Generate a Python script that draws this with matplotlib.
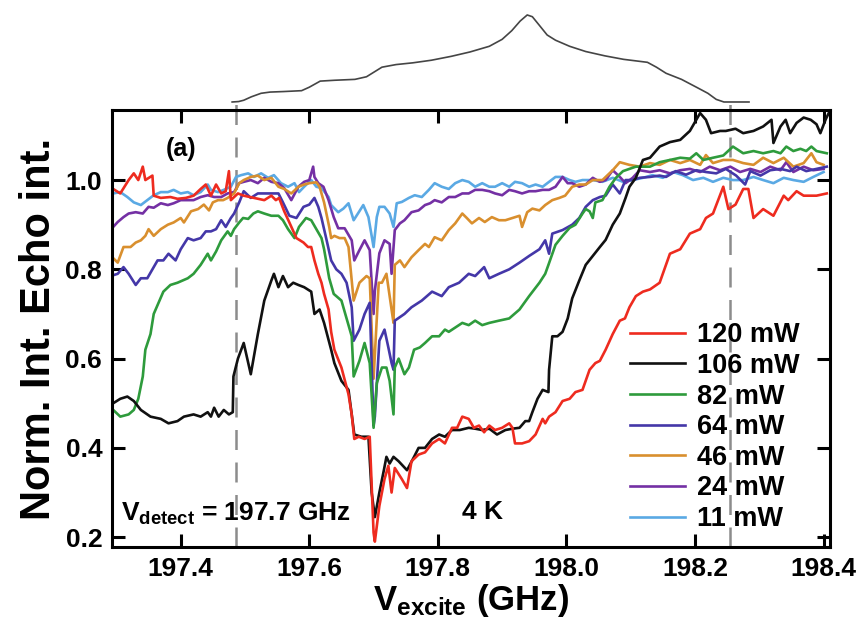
import matplotlib.pyplot as plt

plt.rcParams['font.family'] = ['Liberation Sans', 'DejaVu Sans']
plt.rcParams['font.weight'] = 'bold'
plt.rcParams['axes.labelweight'] = 'bold'
plt.rcParams['mathtext.fontset'] = 'custom'
plt.rcParams['mathtext.rm'] = 'Liberation Sans:bold'
plt.rcParams['mathtext.it'] = 'Liberation Sans:bold'
plt.rcParams['mathtext.bf'] = 'Liberation Sans:bold'

# ---- echo intensity vs excitation frequency, one trace per power ----
red_x = [197.295, 197.306, 197.319, 197.327, 197.334, 197.341, 197.345, 197.356, 197.358, 197.369,
         197.384, 197.395, 197.408, 197.420, 197.431, 197.439, 197.447, 197.455, 197.463, 197.470,
         197.475, 197.478, 197.489, 197.498, 197.514, 197.530, 197.541, 197.548, 197.553, 197.561,
         197.569, 197.580, 197.591, 197.598, 197.603, 197.608, 197.614, 197.619, 197.623, 197.630,
         197.634, 197.639, 197.650, 197.661, 197.666, 197.670, 197.677, 197.686, 197.694, 197.700,
         197.702, 197.709, 197.717, 197.723, 197.728, 197.733, 197.744, 197.752, 197.759, 197.770,
         197.780, 197.791, 197.802, 197.811, 197.822, 197.830, 197.838, 197.848, 197.856, 197.864,
         197.872, 197.880, 197.889, 197.900, 197.911, 197.916, 197.920, 197.931, 197.942, 197.952,
         197.963, 197.967, 197.973, 197.983, 197.994, 198.005, 198.014, 198.025, 198.036, 198.045,
         198.052, 198.061, 198.072, 198.083, 198.091, 198.098, 198.108, 198.119, 198.130, 198.145,
         198.161, 198.177, 198.192, 198.208, 198.217, 198.228, 198.244, 198.252, 198.263, 198.275,
         198.283, 198.291, 198.306, 198.322, 198.338, 198.345, 198.358, 198.369, 198.389, 198.405]
red_y = [0.98, 0.97, 1.00, 1.015, 1.0, 1.03, 1.0, 1.01, 0.965, 0.96,
         0.962, 0.958, 0.96, 0.965, 0.98, 0.99, 0.965, 0.99, 0.97, 0.975,
         1.02, 0.955, 0.97, 0.965, 0.96, 0.955, 0.965, 0.955, 0.96, 0.93,
         0.905, 0.87, 0.86, 0.85, 0.85, 0.82, 0.79, 0.77, 0.745, 0.71,
         0.66, 0.62, 0.58, 0.52, 0.475, 0.42, 0.425, 0.42, 0.425, 0.21,
         0.19, 0.27, 0.33, 0.36, 0.30, 0.355, 0.33, 0.31, 0.37, 0.385,
         0.39, 0.41, 0.42, 0.41, 0.445, 0.445, 0.47, 0.465, 0.445, 0.45,
         0.435, 0.45, 0.44, 0.445, 0.455, 0.445, 0.41, 0.41, 0.415, 0.43,
         0.465, 0.455, 0.47, 0.48, 0.505, 0.51, 0.525, 0.53, 0.575, 0.59,
         0.595, 0.62, 0.655, 0.685, 0.69, 0.715, 0.74, 0.75, 0.755, 0.77,
         0.835, 0.845, 0.88, 0.89, 0.915, 0.925, 0.985, 0.935, 0.945, 0.98,
         0.98, 0.915, 0.935, 0.92, 0.965, 0.955, 0.975, 0.965, 0.965, 0.97]

black_x = [197.295, 197.306, 197.317, 197.327, 197.338, 197.353, 197.369, 197.381, 197.395, 197.405,
           197.420, 197.431, 197.442, 197.447, 197.452, 197.459, 197.467, 197.475, 197.481, 197.482,
           197.489, 197.498, 197.509, 197.520, 197.530, 197.541, 197.545, 197.552, 197.559, 197.567,
           197.575, 197.583, 197.592, 197.603, 197.608, 197.616, 197.623, 197.634, 197.639, 197.650,
           197.661, 197.666, 197.670, 197.681, 197.692, 197.697, 197.702, 197.709, 197.716, 197.720,
           197.725, 197.731, 197.739, 197.752, 197.763, 197.770, 197.780, 197.791, 197.802, 197.811,
           197.822, 197.834, 197.848, 197.858, 197.869, 197.880, 197.892, 197.905, 197.916, 197.927,
           197.936, 197.942, 197.947, 197.955, 197.963, 197.972, 197.973, 197.978, 197.986, 197.994,
           198.002, 198.009, 198.020, 198.030, 198.041, 198.052, 198.061, 198.072, 198.083, 198.092,
           198.098, 198.108, 198.119, 198.130, 198.145, 198.161, 198.177, 198.192, 198.202, 198.208,
           198.217, 198.225, 198.239, 198.248, 198.263, 198.275, 198.291, 198.306, 198.319, 198.322,
           198.333, 198.341, 198.348, 198.358, 198.369, 198.380, 198.389, 198.395, 198.403, 198.408]
black_y = [0.50, 0.51, 0.515, 0.505, 0.485, 0.47, 0.465, 0.455, 0.46, 0.47,
           0.475, 0.47, 0.48, 0.47, 0.49, 0.47, 0.485, 0.475, 0.48, 0.56,
           0.60, 0.635, 0.565, 0.655, 0.73, 0.775, 0.79, 0.76, 0.785, 0.76,
           0.77, 0.765, 0.76, 0.75, 0.70, 0.71, 0.68, 0.62, 0.59, 0.55,
           0.53, 0.475, 0.43, 0.425, 0.425, 0.30, 0.245, 0.30, 0.35, 0.38,
           0.365, 0.38, 0.37, 0.35, 0.38, 0.40, 0.40, 0.42, 0.43, 0.425,
           0.44, 0.44, 0.445, 0.443, 0.44, 0.443, 0.43, 0.44, 0.443, 0.445,
           0.46, 0.46, 0.48, 0.51, 0.53, 0.525, 0.575, 0.65, 0.65, 0.66,
           0.69, 0.735, 0.775, 0.81, 0.83, 0.85, 0.866, 0.90, 0.925, 0.96,
           0.985, 1.005, 1.045, 1.05, 1.075, 1.085, 1.09, 1.11, 1.135, 1.15,
           1.135, 1.105, 1.11, 1.11, 1.115, 1.105, 1.11, 1.12, 1.135, 1.083,
           1.12, 1.135, 1.105, 1.128, 1.14, 1.135, 1.125, 1.105, 1.135, 1.15]

green_x = [197.295, 197.306, 197.319, 197.327, 197.334, 197.341, 197.345, 197.353, 197.358, 197.364,
           197.373, 197.384, 197.395, 197.411, 197.420, 197.431, 197.442, 197.447, 197.455, 197.463,
           197.473, 197.478, 197.483, 197.491, 197.497, 197.505, 197.513, 197.520, 197.530, 197.541,
           197.552, 197.559, 197.567, 197.577, 197.584, 197.595, 197.603, 197.611, 197.619, 197.623,
           197.631, 197.638, 197.642, 197.650, 197.658, 197.666, 197.669, 197.678, 197.686, 197.694,
           197.700, 197.705, 197.713, 197.720, 197.725, 197.731, 197.733, 197.739, 197.748, 197.755,
           197.763, 197.772, 197.780, 197.791, 197.802, 197.811, 197.817, 197.838, 197.848, 197.858,
           197.869, 197.880, 197.895, 197.911, 197.927, 197.942, 197.958, 197.967, 197.972, 197.983,
           197.994, 198.005, 198.014, 198.025, 198.030, 198.036, 198.041, 198.045, 198.056, 198.067,
           198.077, 198.088, 198.098, 198.108, 198.130, 198.145, 198.161, 198.177, 198.192, 198.202,
           198.213, 198.228, 198.244, 198.259, 198.275, 198.291, 198.306, 198.322, 198.333, 198.342,
           198.353, 198.364, 198.373, 198.381, 198.389, 198.405]
green_y = [0.485, 0.47, 0.475, 0.485, 0.51, 0.56, 0.62, 0.655, 0.70, 0.72,
           0.75, 0.765, 0.77, 0.78, 0.79, 0.81, 0.835, 0.82, 0.84, 0.865,
           0.885, 0.875, 0.89, 0.905, 0.915, 0.913, 0.925, 0.93, 0.925, 0.92,
           0.92, 0.91, 0.89, 0.87, 0.895, 0.915, 0.91, 0.89, 0.87, 0.845,
           0.78, 0.745, 0.74, 0.73, 0.69, 0.65, 0.56, 0.595, 0.635, 0.59,
           0.445, 0.545, 0.58, 0.58, 0.55, 0.475, 0.58, 0.60, 0.565, 0.58,
           0.62, 0.625, 0.635, 0.65, 0.65, 0.665, 0.66, 0.68, 0.675, 0.685,
           0.675, 0.68, 0.685, 0.69, 0.71, 0.74, 0.77, 0.79, 0.81, 0.855,
           0.875, 0.893, 0.90, 0.925, 0.935, 0.93, 0.915, 0.95, 0.955, 0.985,
           1.005, 1.02, 1.025, 1.03, 1.03, 1.04, 1.045, 1.05, 1.048, 1.06,
           1.045, 1.05, 1.055, 1.075, 1.06, 1.065, 1.06, 1.065, 1.06, 1.075,
           1.065, 1.07, 1.065, 1.075, 1.065, 1.06]

blue_x = [197.291, 197.302, 197.311, 197.319, 197.330, 197.338, 197.348, 197.356, 197.364, 197.373,
          197.381, 197.392, 197.400, 197.411, 197.420, 197.431, 197.439, 197.447, 197.455, 197.463,
          197.470, 197.478, 197.483, 197.491, 197.498, 197.509, 197.520, 197.536, 197.552, 197.559,
          197.569, 197.580, 197.591, 197.600, 197.608, 197.614, 197.619, 197.627, 197.634, 197.642,
          197.650, 197.658, 197.666, 197.669, 197.678, 197.686, 197.694, 197.700, 197.702, 197.709,
          197.717, 197.723, 197.728, 197.731, 197.733, 197.748, 197.759, 197.775, 197.791, 197.806,
          197.817, 197.833, 197.848, 197.858, 197.872, 197.880, 197.895, 197.911, 197.927, 197.942,
          197.958, 197.967, 197.973, 197.978, 197.994, 198.009, 198.020, 198.030, 198.041, 198.052,
          198.061, 198.072, 198.083, 198.092, 198.103, 198.114, 198.130, 198.145, 198.155, 198.170,
          198.186, 198.202, 198.217, 198.233, 198.248, 198.264, 198.278, 198.286, 198.302, 198.317,
          198.333, 198.348, 198.358, 198.373, 198.389, 198.405]
blue_y = [0.785, 0.79, 0.805, 0.79, 0.765, 0.78, 0.78, 0.80, 0.82, 0.82,
          0.835, 0.82, 0.845, 0.87, 0.865, 0.87, 0.885, 0.885, 0.89, 0.91,
          0.895, 0.915, 0.925, 0.95, 0.975, 0.96, 0.97, 0.97, 0.97, 0.95,
          0.92, 0.915, 0.94, 0.945, 0.96, 0.94, 0.915, 0.865, 0.82, 0.80,
          0.79, 0.77, 0.715, 0.64, 0.665, 0.70, 0.725, 0.45, 0.47, 0.64,
          0.665, 0.625, 0.59, 0.575, 0.685, 0.70, 0.715, 0.73, 0.75, 0.74,
          0.76, 0.77, 0.79, 0.785, 0.805, 0.78, 0.79, 0.80, 0.815, 0.83,
          0.845, 0.865, 0.835, 0.88, 0.888, 0.90, 0.915, 0.94, 0.955, 0.962,
          0.965, 0.99, 0.97, 1.0, 1.0, 1.005, 1.007, 1.01, 1.007, 1.02,
          1.012, 1.022, 1.018, 1.015, 1.025, 1.01, 0.99, 1.02, 1.01, 1.022,
          1.025, 1.02, 1.03, 1.02, 1.025, 1.03]

orange_x = [197.295, 197.302, 197.311, 197.322, 197.330, 197.338, 197.345, 197.350, 197.358, 197.369,
            197.380, 197.389, 197.400, 197.405, 197.416, 197.427, 197.436, 197.444, 197.450, 197.458,
            197.466, 197.473, 197.483, 197.491, 197.498, 197.509, 197.520, 197.530, 197.541, 197.552,
            197.561, 197.572, 197.583, 197.592, 197.600, 197.611, 197.616, 197.623, 197.631, 197.634,
            197.639, 197.647, 197.655, 197.661, 197.669, 197.678, 197.689, 197.694, 197.700, 197.708,
            197.713, 197.720, 197.728, 197.731, 197.733, 197.741, 197.748, 197.759, 197.770, 197.780,
            197.786, 197.795, 197.806, 197.817, 197.827, 197.838, 197.845, 197.853, 197.864, 197.873,
            197.884, 197.895, 197.905, 197.916, 197.927, 197.931, 197.939, 197.947, 197.958, 197.967,
            197.978, 197.989, 197.998, 198.009, 198.020, 198.030, 198.041, 198.056, 198.072, 198.083,
            198.098, 198.114, 198.130, 198.145, 198.161, 198.177, 198.192, 198.208, 198.217, 198.228,
            198.244, 198.259, 198.275, 198.291, 198.306, 198.322, 198.338, 198.353, 198.369, 198.381,
            198.389, 198.400]
orange_y = [0.825, 0.815, 0.85, 0.85, 0.86, 0.865, 0.875, 0.89, 0.875, 0.89,
            0.90, 0.905, 0.915, 0.905, 0.93, 0.935, 0.945, 0.932, 0.95, 0.955,
            0.955, 0.96, 0.97, 0.993, 1.0, 1.007, 1.01, 1.0, 1.005, 0.985,
            0.98, 0.97, 0.985, 0.99, 0.993, 0.995, 0.985, 0.95, 0.895, 0.87,
            0.875, 0.87, 0.87, 0.85, 0.73, 0.77, 0.785, 0.78, 0.555, 0.77,
            0.77, 0.79, 0.71, 0.68, 0.81, 0.82, 0.805, 0.827, 0.843, 0.857,
            0.85, 0.872, 0.865, 0.888, 0.903, 0.925, 0.915, 0.903, 0.915, 0.906,
            0.917, 0.91, 0.91, 0.915, 0.92, 0.895, 0.928, 0.936, 0.932, 0.944,
            0.955, 0.96, 0.965, 0.985, 0.99, 0.99, 1.0, 1.0, 1.022, 1.04,
            1.034, 1.03, 1.038, 1.034, 1.045, 1.038, 1.045, 1.034, 1.056, 1.038,
            1.045, 1.045, 1.038, 1.034, 1.05, 1.038, 1.05, 1.03, 1.038, 1.06,
            1.04, 1.034]

purple_x = [197.295, 197.302, 197.311, 197.319, 197.330, 197.341, 197.350, 197.358, 197.369, 197.380,
            197.389, 197.400, 197.411, 197.420, 197.431, 197.442, 197.452, 197.463, 197.473, 197.483,
            197.491, 197.498, 197.509, 197.520, 197.530, 197.541, 197.552, 197.561, 197.572, 197.583,
            197.592, 197.600, 197.606, 197.608, 197.614, 197.622, 197.630, 197.638, 197.645, 197.655,
            197.666, 197.670, 197.678, 197.686, 197.694, 197.700, 197.702, 197.709, 197.717, 197.725,
            197.728, 197.733, 197.741, 197.748, 197.759, 197.770, 197.780, 197.788, 197.795, 197.806,
            197.817, 197.827, 197.838, 197.848, 197.858, 197.869, 197.880, 197.889, 197.900, 197.911,
            197.920, 197.931, 197.942, 197.952, 197.963, 197.973, 197.983, 197.994, 198.002, 198.009,
            198.020, 198.030, 198.041, 198.052, 198.061, 198.072, 198.083, 198.092, 198.103, 198.114,
            198.130, 198.145, 198.161, 198.177, 198.192, 198.208, 198.223, 198.239, 198.255, 198.270,
            198.286, 198.302, 198.317, 198.333, 198.342, 198.353, 198.369, 198.384, 198.400]
purple_y = [0.895, 0.906, 0.917, 0.925, 0.928, 0.925, 0.94, 0.938, 0.948, 0.944,
            0.948, 0.955, 0.955, 0.955, 0.962, 0.966, 0.962, 0.962, 0.97, 0.973,
            0.993, 0.996, 1.0, 0.993, 1.005, 0.996, 0.993, 0.982, 0.955, 0.985,
            0.996, 1.0, 1.03, 1.007, 0.993, 0.985, 0.955, 0.917, 0.892, 0.892,
            0.865, 0.82, 0.843, 0.865, 0.843, 0.70, 0.752, 0.836, 0.865, 0.857,
            0.79, 0.888, 0.903, 0.91, 0.928, 0.932, 0.944, 0.948, 0.955, 0.95,
            0.962, 0.962, 0.97, 0.97, 0.978, 0.978, 0.975, 0.97, 0.966, 0.978,
            0.975, 0.97, 0.975, 0.975, 0.978, 0.978, 0.985, 1.007, 0.993, 0.993,
            0.985, 0.99, 1.005, 0.996, 1.0, 1.022, 1.007, 0.993, 1.005, 1.022,
            1.018, 1.022, 1.015, 1.022, 1.025, 1.018, 1.03, 1.022, 1.03, 1.018,
            1.025, 1.018, 1.03, 1.022, 1.04, 1.018, 1.03, 1.022, 1.025]

lblue_x = [197.295, 197.306, 197.317, 197.327, 197.338, 197.348, 197.358, 197.369, 197.380, 197.389,
           197.400, 197.411, 197.420, 197.431, 197.442, 197.447, 197.458, 197.467, 197.478, 197.486,
           197.494, 197.505, 197.514, 197.525, 197.536, 197.545, 197.556, 197.567, 197.577, 197.584,
           197.592, 197.603, 197.611, 197.619, 197.630, 197.634, 197.645, 197.653, 197.661, 197.669,
           197.677, 197.684, 197.692, 197.700, 197.705, 197.709, 197.717, 197.725, 197.731, 197.736,
           197.744, 197.755, 197.764, 197.775, 197.786, 197.795, 197.806, 197.817, 197.827, 197.838,
           197.848, 197.858, 197.869, 197.880, 197.889, 197.900, 197.911, 197.920, 197.931, 197.942,
           197.952, 197.963, 197.973, 197.983, 197.994, 198.005, 198.014, 198.025, 198.041, 198.056,
           198.072, 198.088, 198.103, 198.119, 198.134, 198.150, 198.166, 198.181, 198.197, 198.213,
           198.228, 198.244, 198.259, 198.275, 198.291, 198.306, 198.322, 198.338, 198.353, 198.369,
           198.384, 198.400]
lblue_y = [0.97, 0.973, 0.962, 0.95, 0.944, 0.955, 0.966, 0.973, 0.973, 0.978,
           0.97, 0.973, 0.966, 0.973, 0.99, 0.978, 0.973, 0.978, 0.985, 1.007,
           1.011, 1.015, 1.007, 1.015, 1.005, 1.011, 0.993, 0.985, 0.993, 0.973,
           0.985, 1.0, 0.985, 0.982, 0.962, 0.944, 0.928, 0.936, 0.948, 0.91,
           0.928, 0.944, 0.917, 0.85, 0.917, 0.94, 0.94, 0.925, 0.895, 0.948,
           0.951, 0.96, 0.966, 0.962, 0.978, 0.993, 0.985, 0.98, 0.993, 1.0,
           0.996, 0.985, 0.993, 0.985, 0.985, 0.993, 0.985, 0.996, 0.993, 0.985,
           0.99, 0.985, 0.996, 1.007, 1.007, 1.0, 0.996, 1.0, 1.0, 0.996,
           1.005, 0.996, 1.0, 1.005, 1.011, 1.005, 1.018, 1.011, 1.0, 1.005,
           0.996, 1.005, 1.0, 1.0, 1.007, 1.0, 0.993, 1.005, 1.0, 0.996,
           1.007, 1.018]

# EPR spectrum drawn above the panel (arb. units)
spec_x = [197.480, 197.490, 197.498, 197.510, 197.525, 197.539, 197.560, 197.588, 197.600, 197.617,
          197.640, 197.671, 197.689, 197.713, 197.735, 197.761, 197.790, 197.821, 197.850, 197.880,
          197.900, 197.915, 197.928, 197.939, 197.947, 197.958, 197.970, 197.983, 198.005, 198.030,
          198.060, 198.089, 198.126, 198.140, 198.155, 198.179, 198.204, 198.220, 198.233, 198.245,
          198.284]
spec_y = [0.0, 0.005, 0.02, 0.06, 0.10, 0.114, 0.12, 0.13, 0.17, 0.24,
          0.25, 0.26, 0.29, 0.40, 0.43, 0.45, 0.48, 0.525, 0.575, 0.64,
          0.72, 0.82, 0.93, 1.0, 0.98, 0.88, 0.77, 0.71, 0.64, 0.58,
          0.53, 0.49, 0.456, 0.40, 0.33, 0.26, 0.163, 0.10, 0.03, 0.0,
          0.0]

powers = ['120 mW', '106 mW', '82 mW', '64 mW', '46 mW', '24 mW', '11 mW']
colors = ['#ee2b1f', '#111111', '#2e9b3c', '#4437a8', '#d98f2e', '#7430a4', '#5aa9e4']
dashed_at = [197.486, 198.255]

series = [(red_x, red_y), (black_x, black_y), (green_x, green_y), (blue_x, blue_y),
          (orange_x, orange_y), (purple_x, purple_y), (lblue_x, lblue_y)]

fig = plt.figure(figsize=(8.61, 6.22), dpi=100)
ax = fig.add_axes([0.130, 0.1206, 0.834, 0.7026])
ax_top = fig.add_axes([0.130, 0.8312, 0.834, 0.1527])

# draw lowest power first so 120 mW ends up on top
handles = []
for i in range(len(series) - 1, -1, -1):
    xs, ys = series[i]
    h, = ax.plot(xs, ys, '-', color=colors[i], lw=1.9, label=powers[i])
    handles.append(h)
handles = handles[::-1]

for xv in dashed_at:
    ax.axvline(xv, ymin=0, ymax=1.016, color='#8c8c8c', lw=1.8,
               dashes=(8, 5), clip_on=False, zorder=0)

ax.set_xlim(197.293, 198.41)
ax.set_ylim(0.178, 1.157)
ax.set_xticks([197.4, 197.6, 197.8, 198.0, 198.2, 198.4])
ax.set_yticks([0.2, 0.4, 0.6, 0.8, 1.0])
ax.tick_params(which='major', direction='in', length=9.5, width=2.2,
               top=True, right=True, labelsize=19, pad=7)
for sp in ax.spines.values():
    sp.set_linewidth(2.2)

ax.set_xlabel(r'V$_{\rm excite}$ (GHz)', fontsize=25, labelpad=1)
ax.set_ylabel('Norm. Int. Echo int.', fontsize=30, labelpad=5)

ax.text(0.075, 0.895, '(a)', transform=ax.transAxes, fontsize=18)
ax.text(0.012, 0.06, r'V$_{\rm detect}$ = 197.7 GHz', transform=ax.transAxes, fontsize=19)
ax.text(0.488, 0.065, '4 K', transform=ax.transAxes, fontsize=19)

ax.legend(handles=handles, loc='upper left', bbox_to_anchor=(0.722, 0.514),
          frameon=False, fontsize=19.5, handlelength=2.0, handletextpad=0.45,
          labelspacing=0.17, borderpad=0, borderaxespad=0)

ax_top.plot(spec_x, spec_y, '-', color='#454545', lw=1.2)
ax_top.set_xlim(ax.get_xlim())
ax_top.set_ylim(-0.0345, 1.057)
ax_top.axis('off')

fig.savefig('out.png', dpi=100)
